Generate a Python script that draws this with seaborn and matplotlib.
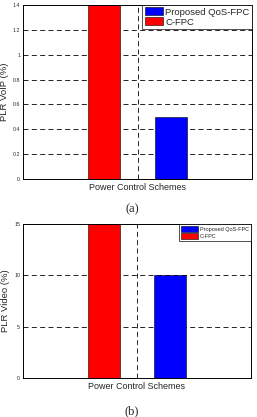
import matplotlib
matplotlib.use('Agg')
import matplotlib.pyplot as plt
import matplotlib.ticker as mticker
from matplotlib.patches import Patch
import pandas as pd
import seaborn as sns

# Values
schemes = ['C-FPC', 'Proposed QoS-FPC']
voip_plr = [1.4, 0.5]
video_plr = [15, 10]
colors = {'C-FPC': '#ff0000', 'Proposed QoS-FPC': '#0000ff'}

sns.set_style('white')
plt.rcParams['font.family'] = ['Liberation Sans', 'DejaVu Sans']

fig = plt.figure(figsize=(2.57, 4.17), dpi=100)


def panel(rect, values, ylabel, ymax, yticks, legend_kw, letter, letter_y):
    ax = fig.add_axes(rect)
    df = pd.DataFrame({'group': ['Power Control Schemes'] * len(schemes),
                       'scheme': schemes, 'plr': values})
    sns.barplot(data=df, x='group', y='plr', hue='scheme', hue_order=schemes,
                palette=colors, width=0.58, gap=0.52, ax=ax,
                edgecolor='black', linewidth=0.4, saturation=1, legend=False)
    ax.set_xlim(-0.5, 0.5)
    ax.set_ylim(0, ymax)
    ax.set_yticks(yticks)
    ax.yaxis.set_major_formatter(mticker.FormatStrFormatter('%g'))
    ax.set_xticks([0])
    ax.set_xticklabels([''])
    ax.grid(True, axis='both', color='black', linestyle=(0, (6, 4)), linewidth=0.6)
    ax.set_axisbelow(True)
    ax.tick_params(axis='both', direction='in', length=2, width=0.5, labelsize=3.8, pad=2)
    for s in ax.spines.values():
        s.set_color('black')
        s.set_linewidth(0.7)
    ax.set_xlabel('Power Control Schemes', fontsize=6.5, labelpad=1)
    ax.set_ylabel(ylabel, fontsize=6.8, labelpad=3)
    handles = [Patch(facecolor=colors[n], edgecolor='black', linewidth=0.4)
               for n in ['Proposed QoS-FPC', 'C-FPC']]
    leg = ax.legend(handles, ['Proposed QoS-FPC', 'C-FPC'], loc='upper right',
                    frameon=True, fancybox=False, borderaxespad=0,
                    handletextpad=0.3, **legend_kw)
    leg.get_frame().set_edgecolor('black')
    leg.get_frame().set_linewidth(0.6)
    fig.text(rect[0] + rect[2] / 2 - 0.02, letter_y, letter, ha='center', va='center',
             fontsize=9, family='Liberation Serif')
    return ax


panel([23 / 257, 1 - 179 / 417, 229 / 257, 174 / 417], voip_plr, 'PLR VoIP (%)', 1.4,
      [0, 0.2, 0.4, 0.6, 0.8, 1.0, 1.2, 1.4],
      dict(fontsize=6.8, borderpad=0.25, handlelength=1.9, handleheight=0.9,
           labelspacing=0.1),
      '(a)', 1 - 209 / 417)
panel([23 / 257, 1 - 378 / 417, 228 / 257, 154 / 417], video_plr, 'PLR Video (%)', 15,
      [0, 5, 10, 15],
      dict(fontsize=4, borderpad=0.35, handlelength=3.2, handleheight=1.3,
           labelspacing=0.2),
      '(b)', 1 - 411 / 417)

fig.savefig('out.png', dpi=100)
